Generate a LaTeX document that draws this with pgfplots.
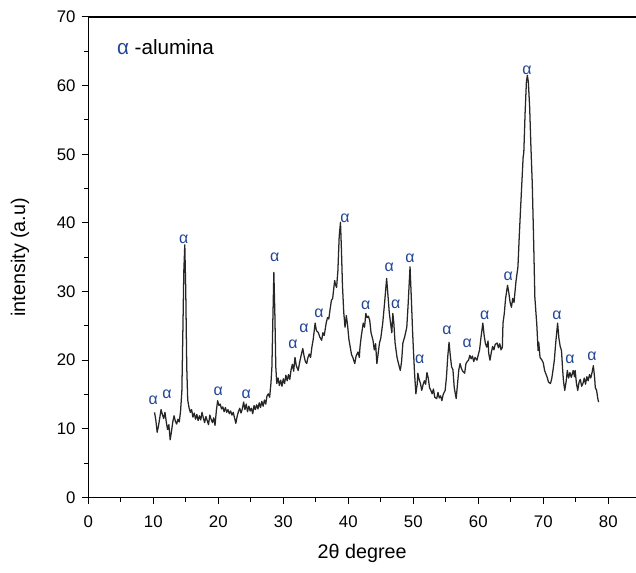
\documentclass[border=0pt]{standalone}
\usepackage{fontspec}
\setmainfont{Liberation Sans}
\usepackage{pgfplots}
\pgfplotsset{compat=1.18}
\definecolor{alphablue}{RGB}{35,70,150}
\begin{document}
\begin{tikzpicture}
\useasboundingbox (-66.2pt,-55.9pt) rectangle (410.8pt,373.1pt);
\begin{axis}[
  at={(0,0)}, anchor=south west,
  scale only axis,
  width=410.8pt, height=360.4pt,
  xmin=0, xmax=84.26, ymin=0, ymax=70,
  axis x line*=bottom, axis y line*=left,
  axis line style={line width=0.9pt, -},
  xtick={0,10,...,80}, ytick={0,10,...,70},
  minor xtick={5,15,...,75}, minor ytick={5,15,...,65},
  tick align=outside,
  major tick length=5pt, minor tick length=3.5pt,
  tick style={line width=0.8pt, black},
  /pgf/number format/assume math mode=true,
  tick label style={font=\fontsize{12.6pt}{14pt}\selectfont},
  xticklabel style={yshift=-5pt},
  yticklabel style={xshift=-1pt},
  xlabel={2θ degree}, ylabel={intensity (a.u)},
  label style={font=\fontsize{14.8pt}{16pt}\selectfont},
  xlabel style={at={(axis description cs:0.5,-0.1155)}, anchor=center},
  ylabel style={at={(axis description cs:-0.1246,0.5)}, anchor=center},
  clip=false,
]
\draw[line width=0.9pt] (rel axis cs:0,1) -- (rel axis cs:1,1);
\addplot[black!85, line width=0.95pt, mark=none, line join=round] coordinates {
(10.2,12.4)(10.4,11.2)(10.6,9.5)(10.8,10.4)(11.0,11.6)(11.2,12.8)(11.4,12.1)(11.6,11.5)(11.8,12.4)(12.0,11.0)
(12.2,9.9)(12.4,10.6)(12.6,8.4)(12.8,9.6)(13.0,11.0)(13.2,11.9)(13.4,11.1)(13.6,10.7)(13.8,11.4)(14.0,11.0)
(14.2,12.6)(14.4,15.5)(14.55,24)(14.7,33)(14.85,36.8)(15.0,30)(15.15,19)(15.3,14.2)(15.5,13.1)(15.7,12.4)
(15.9,12.8)(16.1,11.7)(16.3,12.3)(16.5,11.4)(16.7,12.1)(16.9,11.2)(17.1,11.9)(17.3,11.3)(17.5,12.4)(17.7,11.6)
(17.9,10.9)(18.1,11.8)(18.3,11.2)(18.5,10.6)(18.7,12.0)(18.9,11.4)(19.1,10.9)(19.3,11.6)(19.5,10.5)(19.7,12.6)
(19.9,14.1)(20.1,13.4)(20.3,13.6)(20.5,12.9)(20.7,13.2)(20.9,12.5)(21.1,13.1)(21.3,12.4)(21.5,12.8)(21.7,12.2)
(21.9,12.6)(22.1,12.0)(22.3,12.4)(22.5,11.6)(22.7,10.8)(22.9,11.8)(23.1,12.5)(23.3,13.0)(23.5,12.3)(23.7,12.9)
(23.9,13.9)(24.1,12.8)(24.3,13.6)(24.5,12.5)(24.7,13.3)(24.9,12.6)(25.1,13.0)(25.3,12.2)(25.5,13.4)(25.7,12.8)
(25.9,13.5)(26.1,12.9)(26.3,13.8)(26.5,13.1)(26.7,14.0)(26.9,13.3)(27.1,14.2)(27.3,13.6)(27.5,14.8)(27.7,15.1)
(27.9,14.6)(28.1,16.6)(28.25,19)(28.4,26)(28.55,32.8)(28.7,27)(28.85,19)(29.0,16.6)(29.2,17.4)(29.4,16.3)
(29.6,17.1)(29.8,16.2)(30.0,17.3)(30.2,16.6)(30.4,17.8)(30.6,17.0)(30.8,17.9)(31.0,17.2)(31.2,18.6)(31.4,19.4)
(31.6,18.4)(31.8,20.4)(32.0,19.2)(32.3,18.5)(32.5,19.6)(32.7,20.5)(33.0,21.7)(33.2,20.6)(33.4,19.8)(33.6,19.5)
(33.8,20.4)(34.0,20.9)(34.2,20.4)(34.4,21.9)(34.6,23.0)(34.9,25.4)(35.1,24.3)(35.4,24.0)(35.6,23.4)(35.9,22.9)
(36.1,24.0)(36.3,23.6)(36.6,25.4)(36.8,26.2)(37.0,26.0)(37.2,27.4)(37.4,28.7)(37.6,29.0)(37.9,31.6)(38.05,31.0)
(38.2,30.6)(38.4,33)(38.6,38)(38.8,40.1)(38.95,36)(39.1,31)(39.3,27)(39.5,24.8)(39.7,26.5)(39.9,25.0)
(40.1,23.0)(40.3,21.9)(40.5,20.8)(40.7,20.4)(41.0,19.5)(41.2,20.6)(41.5,21.2)(41.7,20.4)(41.8,21.9)(42.0,23.5)
(42.3,25.4)(42.5,24.8)(42.7,26.8)(42.9,26.2)(43.1,26.4)(43.3,25.8)(43.5,24.0)(43.8,22.9)(44.0,21.5)(44.2,22.4)
(44.4,19.5)(44.6,21.0)(44.8,22.5)(45.0,23.2)(45.3,25.4)(45.6,28.5)(45.9,31.9)(46.1,29.5)(46.3,27.0)(46.5,25.4)
(46.7,24.0)(46.85,26.8)(47.0,25.5)(47.2,22.5)(47.5,20.4)(47.7,19.6)(48.0,18.5)(48.2,19.8)(48.4,22.5)(48.7,23.5)
(49.0,24.8)(49.2,28)(49.5,33.6)(49.7,29)(49.9,24)(50.0,21.9)(50.2,18)(50.4,15.1)(50.6,16.5)(50.7,18.1)
(50.9,17.2)(51.1,16.6)(51.3,15.6)(51.5,16.4)(51.7,17.0)(51.9,16.5)(52.1,18.2)(52.3,17.4)(52.5,16.0)(52.7,15.6)
(52.9,15.1)(53.1,15.8)(53.3,14.6)(53.6,14.4)(53.8,15.3)(54.0,14.5)(54.2,14.8)(54.4,14.1)(54.6,15.0)(54.9,15.6)
(55.1,17.5)(55.3,20.5)(55.5,22.6)(55.7,20.6)(55.9,19.0)(56.1,18.6)(56.3,16.0)(56.6,14.4)(56.8,16.5)(57.0,18.6)
(57.2,19.5)(57.4,18.8)(57.6,18.4)(57.9,18.1)(58.1,19.5)(58.3,19.8)(58.5,20.0)(58.7,20.7)(58.9,20.2)(59.1,20.6)
(59.3,19.8)(59.5,20.4)(59.8,20.0)(60.0,20.8)(60.2,21.5)(60.4,23.2)(60.7,25.4)(60.9,23.6)(61.1,22.4)(61.3,21.9)
(61.5,22.8)(61.6,21.0)(61.8,20.0)(62.0,21.1)(62.2,22.0)(62.4,21.5)(62.6,22.3)(62.9,22.5)(63.1,21.8)(63.3,22.4)
(63.5,21.5)(63.7,21.9)(63.8,25.4)(64.0,26.8)(64.2,29.0)(64.5,30.9)(64.7,29.8)(64.9,28.4)(65.1,27.7)(65.3,29.0)
(65.5,28.4)(65.6,29.5)(65.8,31.5)(66.1,33.6)(66.3,38)(66.5,42)(66.7,45.8)(66.9,49.6)(67.0,50.2)(67.2,56)
(67.4,60.5)(67.55,61.5)(67.7,60.5)(67.9,56.9)(68.1,51)(68.3,45.8)(68.5,38)(68.7,29.2)(68.9,26.5)(69.0,25.2)
(69.2,21.4)(69.3,22.6)(69.5,20.4)(69.8,20.0)(70.0,19.6)(70.2,18.5)(70.4,18.0)(70.6,17.5)(70.8,16.8)(71.1,16.6)
(71.3,17.3)(71.5,18.6)(71.7,20.0)(71.9,22.4)(72.2,25.4)(72.4,23.2)(72.6,22.0)(72.8,21.4)(72.95,19)(73.1,17.0)
(73.3,15.6)(73.5,16.8)(73.7,18.5)(73.9,17.4)(74.1,18.2)(74.3,17.5)(74.4,17.8)(74.6,18.5)(74.8,17.6)(74.9,18.5)
(75.1,16.6)(75.3,15.6)(75.5,16.8)(75.7,17.2)(75.9,16.2)(76.1,16.6)(76.3,17.4)(76.5,16.5)(76.7,17.6)(76.9,17.0)
(77.1,17.9)(77.3,17.4)(77.5,18.2)(77.7,19.2)(77.9,17.4)(78.0,16.0)(78.2,15.6)(78.35,14.6)(78.5,13.9)
};
\addplot[draw=none, mark=none, nodes near coords={α},
  every node near coord/.append style={anchor=center, text=alphablue, inner sep=0pt, font=\fontsize{12pt}{13pt}\selectfont}]
coordinates {
(10.0,14.2)(12.1,15.1)(14.7,37.6)(20.0,15.4)(24.3,15.0)(28.7,35.0)(31.5,22.3)(33.2,24.7)
(35.5,26.9)(39.5,40.7)(42.7,28.0)(46.3,33.5)(47.3,28.2)(49.5,34.8)(51.0,20.1)(55.2,24.3)(58.3,22.4)
(61.0,26.6)(64.6,32.2)(67.5,62.3)(72.1,26.6)(74.1,20.2)(77.5,20.5)
};
\node[anchor=west, inner sep=0pt, font=\fontsize{15.5pt}{17pt}\selectfont] at (rel axis cs:0.052,0.9376) {\textcolor{alphablue}{α} -alumina};
\end{axis}
\end{tikzpicture}
\end{document}
